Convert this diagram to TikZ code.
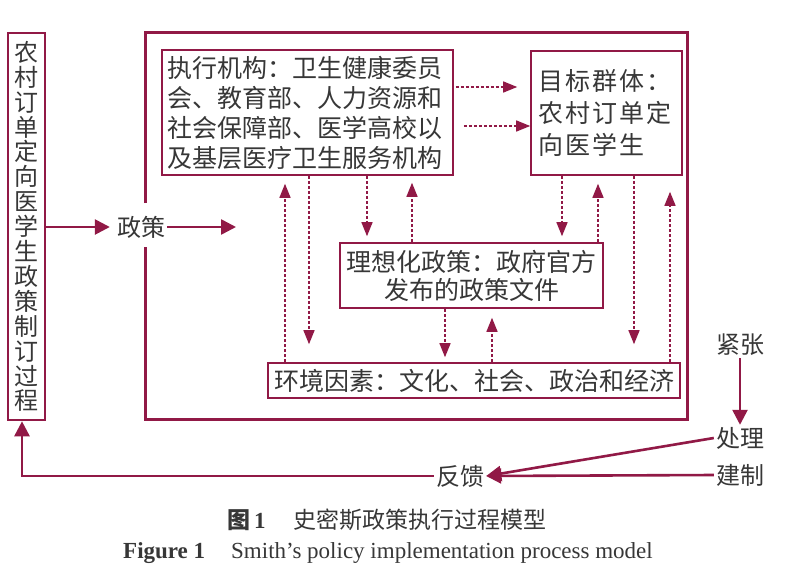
\documentclass[tikz,border=0pt]{standalone}
\usepackage{fontspec}
\setmainfont{Liberation Serif}
\newfontfamily\cjk{Noto Sans CJK SC}
\newfontfamily\cjkw[LetterSpace=8]{Noto Sans CJK SC}
\usetikzlibrary{arrows.meta}
\definecolor{dred}{RGB}{145,25,70}
\definecolor{txt}{RGB}{55,55,55}
\begin{document}
\begin{tikzpicture}[x=1pt,y=-1pt,
  frame/.style={draw=dred, line width=3pt},
  box/.style={draw=dred, line width=1.6pt, inner sep=0pt, text=txt, font=\cjk\fontsize{25}{30}\selectfont},
  solidarr/.style={draw=dred, line width=2.6pt, -{Triangle[length=15pt,width=15pt]}},
  dasharr/.style={draw=dred, line width=1.4pt, dash pattern=on 3pt off 2pt, -{Triangle[length=14pt,width=11pt]}},
  lbl/.style={text=txt, font=\cjk\fontsize{24}{26}\selectfont, inner sep=2pt}]
\fill[white] (0,0) rectangle (800,586);
\useasboundingbox (0,0) rectangle (800,586);

% boxes
\node[box, line width=2.6pt, align=center, text width=25pt, minimum width=37pt, minimum height=387pt,
  font=\cjk\fontsize{24}{24.9}\selectfont] (left) at (26.5,226.5)
  {农\\村\\订\\单\\定\\向\\医\\学\\生\\政\\策\\制\\订\\过\\程};
\node[box, text width=280pt, align=left, minimum height=125pt, inner xsep=5.5pt] (exec) at (307.5,112.5)
  {执行机构：卫生健康委员\\会、教育部、人力资源和\\社会保障部、医学高校以\\及基层医疗卫生服务机构};
\node[box, font=\cjkw\fontsize{25}{32}\selectfont, text width=137pt, inner xsep=7pt, align=left, minimum height=124pt] (tgt) at (606.5,113)
  {目标群体：\\农村订单定\\向医学生};
\node[box, font=\cjk\fontsize{25}{28}\selectfont, align=center, minimum width=263pt, minimum height=65pt] (ideal) at (471.5,275.5)
  {理想化政策：政府官方\\发布的政策文件};
\node[box, minimum width=412pt, minimum height=35pt] (env) at (474,380.5)
  {环境因素：文化、社会、政治和经济};

% outer frame
\draw[frame] (145,203) -- (145,33) -- (687,33) -- (687,419) -- (145,419) -- (145,247);

% policy input
\node[lbl] (pol) at (141,227) {政策};
\coordinate (polend) at (236,227);
\draw[solidarr, shorten >=5pt] (left.east |- pol) -- (pol.west);
\draw[solidarr] (pol.east) -- (polend);

% columns
\foreach \nm/\xx in {c0/22, c1/285, c2/309, c3/367, c4/412, c5/562, c6/598, c7/634, c8/670, c9/445, c10/492}
  \coordinate (\nm) at (\xx,0);
\coordinate (r1) at (0,87);
\coordinate (r2) at (0,126);

% dashed arrows
\draw[dasharr, shorten >=8pt] (env.north -| c1) -- (exec.south -| c1);
\draw[dasharr, shorten >=18pt] (exec.south -| c2) -- (env.north -| c2);
\draw[dasharr, shorten >=6pt] (exec.south -| c3) -- (ideal.north -| c3);
\draw[dasharr, shorten >=7pt] (ideal.north -| c4) -- (exec.south -| c4);
\draw[dasharr, shorten >=6pt] (tgt.south -| c5) -- (ideal.north -| c5);
\draw[dasharr, shorten >=8pt] (ideal.north -| c6) -- (tgt.south -| c6);
\draw[dasharr, shorten >=18pt] (tgt.south -| c7) -- (env.north -| c7);
\draw[dasharr, shorten >=16pt] (env.north -| c8) -- (tgt.south -| c8);
\draw[dasharr, shorten >=5pt] (ideal.south -| c9) -- (env.north -| c9);
\draw[dasharr, shorten >=9pt] (env.north -| c10) -- (ideal.south -| c10);
\draw[dasharr, shorten <=2pt, shorten >=13pt] (exec.east |- r1) -- (tgt.west |- r1);
\draw[dasharr, shorten <=10pt] (exec.east |- r2) -- (tgt.west |- r2);

% right side and feedback
\node[lbl] (tense) at (740,345) {紧张};
\node[lbl] (proc) at (740,438) {处理};
\node[lbl] (inst) at (740,475) {建制};
\node[lbl] (fb) at (460,476) {反馈};
\draw[solidarr] (tense.south) -- (proc.north);
\draw[solidarr] (proc.west) -- (fb.east);
\draw[solidarr] (inst.west) -- (fb.east);
\draw[solidarr] (fb.west) -| (left.south -| c0);

% captions
\node[text=txt, font=\cjk\fontsize{23}{26}\selectfont] (cap1) at (387,520)
  {{\bfseries 图\,{\rmfamily 1}}\hspace{28pt}史密斯政策执行过程模型};
\node[text=txt, font=\fontsize{23}{26}\selectfont] (cap2) at (388,553)
  {\textbf{Figure 1}\hspace{26pt}Smith’s policy implementation process model};
\end{tikzpicture}
\end{document}
